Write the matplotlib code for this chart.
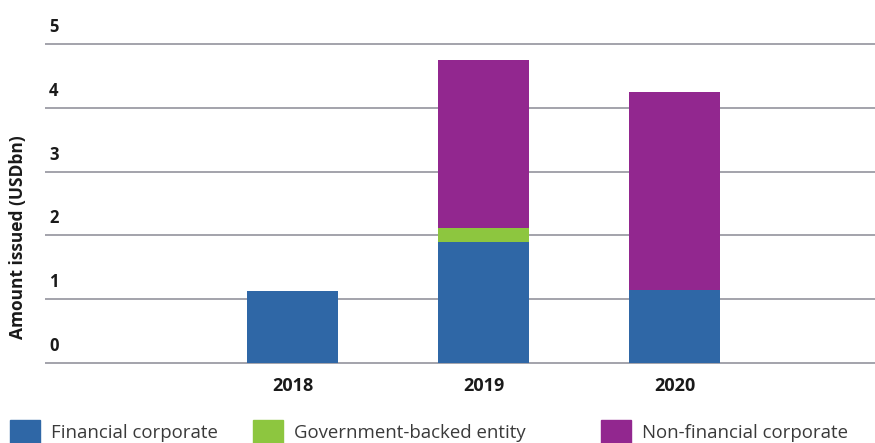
import matplotlib.pyplot as plt
import matplotlib.patches as mpatches
from matplotlib.transforms import ScaledTranslation
import numpy as np

plt.rcParams['font.family'] = ['Open Sans', 'DejaVu Sans']

years = ['2018', '2019', '2020']
financial = [1.13, 1.89, 1.14]
government = [0.0, 0.22, 0.0]
non_financial = [0.0, 2.64, 3.11]
series_names = ['Financial corporate', 'Government-backed entity', 'Non-financial corporate']
colors = ['#2f67a6', '#8dc63f', '#92278f']
y_ticks = [0, 1, 2, 3, 4, 5]

fig = plt.figure(figsize=(8.75, 4.43), dpi=100)
ax = fig.add_axes([45 / 875, 0.1734, 830 / 875, 0.7345])

x = np.arange(len(years))
w = 0.476
bottom = np.zeros(len(years))
for vals, col in zip([financial, government, non_financial], colors):
    ax.bar(x, vals, w, bottom=bottom, color=col, zorder=3)
    bottom += np.array(vals)

ax.set_xlim(-1.296, 3.05)
ax.set_ylim(-0.05, 5.05)
ax.set_yticks(y_ticks)
ax.yaxis.grid(True, color='#a3a3ab', linewidth=1.4, zorder=0)
for s in ax.spines.values():
    s.set_visible(False)

ax.set_xticks(x)
ax.set_xticklabels(years, fontsize=13, fontweight='bold', color='#1a1a1a')
ax.tick_params(axis='x', length=0, pad=8)

ax.set_yticklabels([str(t) for t in y_ticks], fontsize=12, fontweight='bold', color='#1a1a1a')
ax.tick_params(axis='y', length=0, pad=-3)
offset = ScaledTranslation(0, 0.19, fig.dpi_scale_trans)
for lab in ax.get_yticklabels():
    lab.set_horizontalalignment('left')
    lab.set_transform(lab.get_transform() + offset)

fig.text(18 / 875, 1 - 237 / 443, 'Amount issued (USDbn)', rotation=90,
         ha='center', va='center', fontsize=12.5, fontweight='bold', color='#1a1a1a')

# legend, one block per series so the gaps match the original
legend_x = [10 / 875, 253 / 875, 601 / 875]
for name, col, lx in zip(series_names, colors, legend_x):
    h = mpatches.Patch(color=col, label=name)
    fig.legend(handles=[h], loc='center left', bbox_to_anchor=(lx, 1 - 432 / 443),
               frameon=False, fontsize=13.4, handlelength=1.6, handleheight=1.6,
               handletextpad=0.6, borderpad=0, borderaxespad=0, labelcolor='#3a3a3a')

fig.savefig('out.png', dpi=100)
